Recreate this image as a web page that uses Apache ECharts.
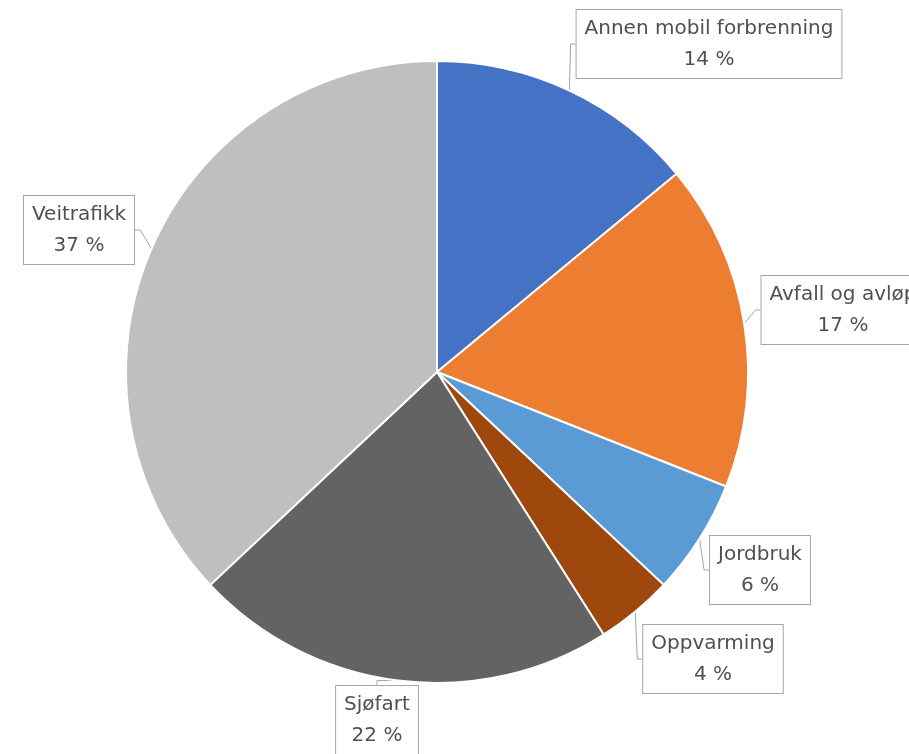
<!DOCTYPE html>
<html><head><meta charset="utf-8">
<script src="https://cdn.jsdelivr.net/npm/echarts@6/dist/echarts.min.js"></script>
<style>html,body{margin:0;padding:0;background:#fff}#c{width:909px;height:754px}</style>
</head><body><div id="c"></div>
<script>
const categories = ['Annen mobil forbrenning','Avfall og avløp','Jordbruk','Oppvarming','Sjøfart','Veitrafikk'];
const values = [14, 17, 6, 4, 22, 37];
const colors = ['#4472c4','#ed7d31','#5b9bd5','#9e480e','#636363','#bfbfbf'];
// label box centres (layout only)
const labelPos = [[709,44],[843,310],[760,570],[713,659],[377,720],[79,230]];

const chart = echarts.init(document.getElementById('c'));
chart.setOption({
  backgroundColor:'#fff',
  animation:false,
  series:[{
    type:'pie',
    left:0, top:0, width:1400, height:754,
    center:[437,372],
    radius:311,
    startAngle:90,
    clockwise:true,
    data: categories.map((n,i)=>({name:n,value:values[i],itemStyle:{color:colors[i]}})),
    itemStyle:{borderColor:'#fff',borderWidth:2},
    label:{
      show:true,
      formatter:'{b}\n{c} %',
      fontFamily:'DejaVu Sans',
      fontSize:20,
      lineHeight:31,
      color:'#505050',
      align:'center',
      overflow:'none',
      backgroundColor:'#fff',
      borderColor:'#a6a6a6',
      borderWidth:1,
      padding:[3,8,3,8]
    },
    labelLine:{show:true,length:10,length2:5,lineStyle:{color:'#a6a6a6',width:1}},
    labelLayout:function(p){
      const pos = labelPos[p.dataIndex];
      return {x:pos[0], y:pos[1], align:'center', verticalAlign:'middle'};
    }
  }]
});
</script></body></html>
